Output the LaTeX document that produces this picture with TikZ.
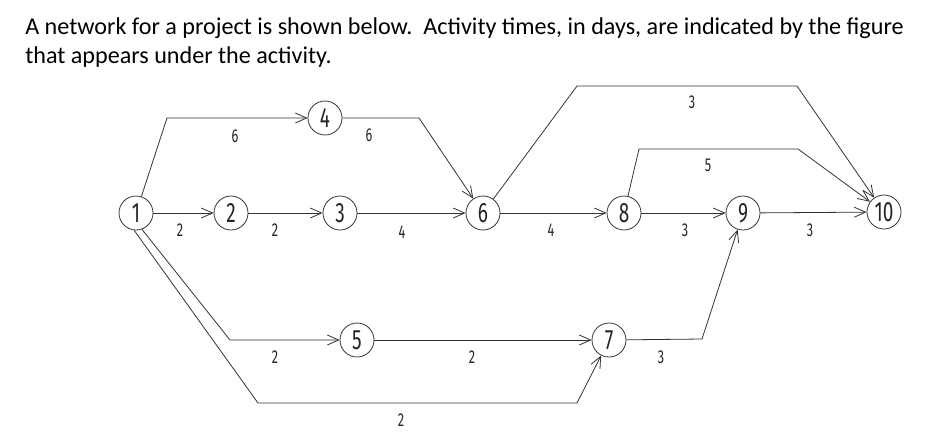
\documentclass[tikz,border=0pt]{standalone}
\usepackage{fontspec}
\setmainfont{Carlito}
\newfontfamily\cadfont{Fira Sans}[FakeStretch=0.68]
\usetikzlibrary{arrows.meta}
\newcommand\evfont{\cadfont\fontsize{21pt}{22pt}\selectfont}
\newcommand\durfont{\cadfont\fontsize{14pt}{15pt}\selectfont}
\newcommand\ttlfont{\fontsize{18.1pt}{22pt}\selectfont}
\begin{document}
\begin{tikzpicture}[x=0.75pt,y=-0.75pt,
  ev/.style={circle,draw=black!80,line width=0.6pt,minimum size=25.5pt,inner sep=0pt,font=\evfont,text=black!85},
  act/.style={draw=black!80,line width=0.6pt,-{Straight Barb[length=8.5pt,width=7.5pt]}},
  dur/.style={font=\durfont,inner sep=0pt,text=black!85},
  ttl/.style={anchor=base west,inner sep=0pt,font=\ttlfont}]
\useasboundingbox (0,0) rectangle (945,437);
% title
\node[ttl] (t1) at (25,34) {A network for a project is shown below.\ \ Activity times, in days, are indicated by the figure};
\node[ttl] (t2) at (25,63) {that appears under the activity.};
% events
\node[ev] (n1) at (136,213) {1};
\node[ev] (n2) at (231,213) {2};
\node[ev] (n3) at (340,213) {3};
\node[ev] (n4) at (325,118) {4};
\node[ev] (n5) at (357,340) {5};
\node[ev] (n6) at (483,213) {6};
\node[ev] (n7) at (609,340) {7};
\node[ev] (n8) at (624,213) {8};
\node[ev] (n9) at (743,213) {9};
\node[ev] (n10) at (884,212) {10};
% corners
\coordinate (a1) at (167,118);
\coordinate (b1) at (419,118);
\coordinate (c1) at (577,86);
\coordinate (c2) at (797,86);
\coordinate (d1) at (639,149);
\coordinate (d2) at (798,149);
\coordinate (e1) at (230,340);
\coordinate (f1) at (258,403);
\coordinate (f2) at (577,403);
\coordinate (g1) at (702,339);
% activities
\draw[act] (n1) -- (n2);
\draw[act] (n2) -- (n3);
\draw[act] (n3) -- (n6);
\draw[act] (n1) -- (a1) -- (n4);
\draw[act] (n4) -- (b1) -- (n6);
\draw[act] (n6) -- (n8);
\draw[act] (n8) -- (n9);
\draw[act] (n9) -- (n10);
\draw[act] (n6) -- (c1) -- (c2) -- (n10);
\draw[act] (n8) -- (d1) -- (d2) -- (n10);
\draw[act] (n1.-70) -- (e1) -- (n5);
\draw[act] (n5) -- (n7);
\draw[act] (n1.-96) -- (f1) -- (f2) -- (n7);
\draw[act] (n7) -- (g1) -- (n9);
% durations
\node[dur] (l12) at (180,230) {2};
\node[dur] (l23) at (275,230) {2};
\node[dur] (l36) at (402,232) {4};
\node[dur] (l14) at (235,136) {6};
\node[dur] (l46) at (369,135) {6};
\node[dur] (l68) at (551,230) {4};
\node[dur] (l89) at (685,230) {3};
\node[dur] (l910) at (810,230) {3};
\node[dur] (l610) at (692,102) {3};
\node[dur] (l810) at (708,165) {5};
\node[dur] (l15) at (275,357) {2};
\node[dur] (l57) at (472,357) {2};
\node[dur] (l17) at (401,420) {2};
\node[dur] (l79) at (661,357) {3};
\end{tikzpicture}
\end{document}
